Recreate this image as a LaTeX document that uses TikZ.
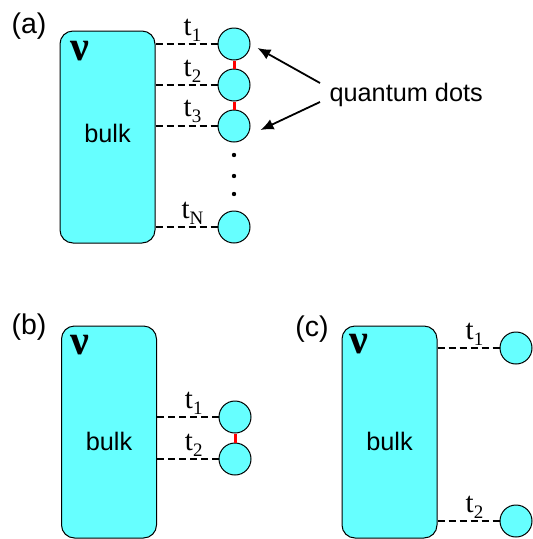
\documentclass[tikz,border=0pt]{standalone}
\usepackage{fontspec}
\setmainfont{Liberation Sans}
\newfontfamily\seriffont{Liberation Serif}
\usetikzlibrary{arrows.meta, positioning}
\definecolor{bulkcyan}{RGB}{102,255,255}
\newcommand{\tlab}[1]{{\seriffont\fontsize{29}{29}\selectfont t\raisebox{-6pt}{\fontsize{19}{19}\selectfont #1}}}

\begin{document}
\begin{tikzpicture}[x=1pt, y=-1pt,
      bulk/.style={draw=black, line width=1pt, fill=bulkcyan, rounded corners=13pt, minimum width=95pt, minimum height=212pt, inner sep=0pt},
      qdot/.style={circle, draw=black, line width=1pt, fill=bulkcyan, minimum size=32pt, inner sep=0pt},
      tunnel/.style={line width=1.8pt, dash pattern=on 7pt off 4pt},
      tlabel/.style={midway, above=2pt, xshift=6pt, inner sep=0pt},
      link/.style={red, line width=3pt},
      arrow/.style={-{Latex[length=13pt, width=11pt]}, line width=1.8pt},
      panel/.style={font=\fontsize{28.5}{28.5}\selectfont},
      bulklab/.style={font=\fontsize{25.3}{25.3}\selectfont},
      nulab/.style={font=\seriffont\bfseries\fontsize{42}{42}\selectfont, inner sep=0pt}
    ]
      \useasboundingbox (0,0) rectangle (533,539);

      % (a) bulk with N dots
      \node[panel] (labA) at (29,26) {(a)};
      \node[bulk] (bulkA) at (107.5,137) {};
      \node[nulab] (nuA) at ([xshift=20pt, yshift=-21pt]bulkA.north west) {ν};
      \node[bulklab] (bulkAtxt) at ([yshift=-103pt]bulkA.north) {bulk};

      \node[qdot] (dA1) at (234,44) {};
      \node[qdot] (dA2) at (234,85) {};
      \node[qdot] (dA3) at (234,126) {};
      \node[qdot] (dAN) at (234,227) {};

      \draw[tunnel] (bulkA.east |- dA1) -- node[tlabel] {\tlab{1}} (dA1);
      \draw[tunnel] (bulkA.east |- dA2) -- node[tlabel] {\tlab{2}} (dA2);
      \draw[tunnel] (bulkA.east |- dA3) -- node[tlabel] {\tlab{3}} (dA3);
      \draw[tunnel] (bulkA.east |- dAN) -- node[tlabel] {\tlab{N}} (dAN);

      \draw[link] (dA1) -- (dA2);
      \draw[link] (dA2) -- (dA3);

      % vertical dots
      \foreach \y in {155,176,194} {
        \fill (234,\y) circle (2.2pt);
      }

      \node[bulklab, anchor=west] (qd) at (326,95) {quantum dots};
      \draw[arrow] ([xshift=-6pt, yshift=12pt]qd.west) -- ([xshift=7pt, yshift=-4pt]dA1.east);
      \draw[arrow] ([xshift=-6pt, yshift=-7pt]qd.west) -- ([xshift=10pt, yshift=-4pt]dA3.east);

      % (b) two coupled dots
      \node[panel] (labB) at (29,327) {(b)};
      \node[bulk] (bulkB) at (109,432) {};
      \node[nulab] (nuB) at ([xshift=19pt, yshift=-20pt]bulkB.north west) {ν};
      \node[bulklab] (bulkBtxt) at ([yshift=-116pt]bulkB.north) {bulk};

      \node[qdot] (dB1) at (235,417) {};
      \node[qdot] (dB2) at (235,459) {};

      \draw[tunnel] (bulkB.east |- dB1) -- node[tlabel] {\tlab{1}} (dB1);
      \draw[tunnel] (bulkB.east |- dB2) -- node[tlabel] {\tlab{2}} (dB2);
      \draw[link] (dB1) -- (dB2);

      % (c) two separate dots
      \node[panel] (labC) at (312,329) {(c)};
      \node[bulk] (bulkC) at (389.5,432) {};
      \node[nulab] (nuC) at ([xshift=17pt, yshift=-19pt]bulkC.north west) {ν};
      \node[bulklab] (bulkCtxt) at ([yshift=-116pt]bulkC.north) {bulk};

      \node[qdot] (dC1) at (516,348) {};
      \node[qdot] (dC2) at (516,521) {};

      \draw[tunnel] (bulkC.east |- dC1) -- node[tlabel] {\tlab{1}} (dC1);
      \draw[tunnel] (bulkC.east |- dC2) -- node[tlabel] {\tlab{2}} (dC2);
    \end{tikzpicture}
\end{document}
